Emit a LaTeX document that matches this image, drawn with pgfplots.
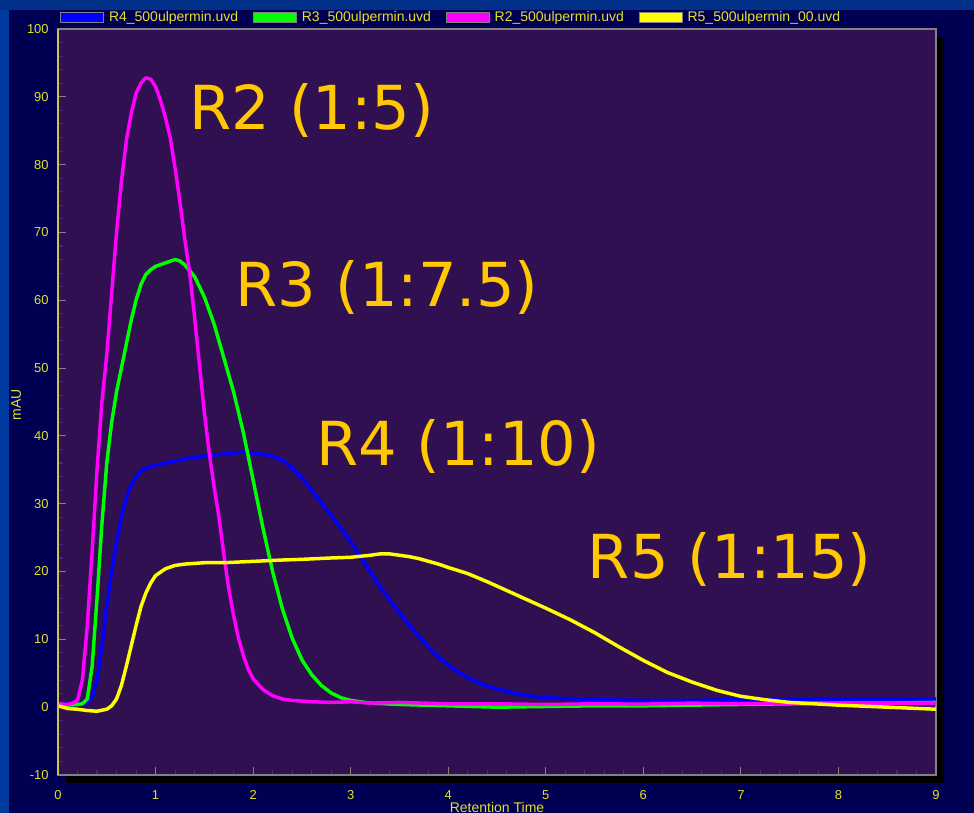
\documentclass[border=0pt]{standalone}
\usepackage{fontspec}
\setmainfont{Liberation Sans}
\newfontfamily\dejavu{DejaVu Sans}
\usepackage{pgfplots}
\pgfplotsset{compat=1.18}
\definecolor{topstrip}{RGB}{0,48,136}
\definecolor{leftstrip}{RGB}{0,60,160}
\definecolor{navy}{RGB}{0,0,82}
\definecolor{plotbg}{RGB}{48,16,80}
\definecolor{tickyel}{RGB}{226,226,40}
\definecolor{annot}{RGB}{255,200,0}
\definecolor{minorc}{RGB}{62,40,140}
\definecolor{gridgray}{RGB}{130,130,130}
\definecolor{yaxisline}{RGB}{204,196,64}
\definecolor{cblue}{RGB}{0,0,255}
\definecolor{cgreen}{RGB}{0,255,0}
\definecolor{cmag}{RGB}{255,0,255}
\definecolor{cyel}{RGB}{255,255,0}

\pgfplotstableread{
x y
0 0.5
0.1 0.5
0.2 0.4
0.3 0.6
0.35 1.5
0.4 4
0.45 9
0.5 15
0.55 20
0.6 24.3
0.65 28
0.7 30.8
0.75 32.8
0.8 34
0.85 34.8
0.9 35.2
1.0 35.7
1.1 36
1.2 36.3
1.3 36.6
1.4 36.8
1.5 37
1.6 37.2
1.7 37.3
1.8 37.5
1.9 37.6
2.0 37.5
2.1 37.3
2.2 37.0
2.3 36.4
2.4 35.3
2.5 33.8
2.6 32.0
2.7 30.1
2.8 28.3
2.9 26.4
3.0 24.4
3.1 22.2
3.2 20
3.3 17.8
3.4 15.8
3.5 13.9
3.6 12.1
3.7 10.4
3.8 8.8
3.9 7.4
4.0 6.2
4.1 5.2
4.2 4.4
4.3 3.7
4.4 3.1
4.6 2.3
4.8 1.7
5.0 1.4
5.5 1.1
6.0 1.0
6.5 1.0
7.0 1.1
7.5 1.1
8.0 1.2
8.5 1.2
9.0 1.2
}\rfour

\pgfplotstableread{
x y
0 0.4
0.1 0.3
0.2 0.4
0.25 0.5
0.3 1.2
0.35 6
0.4 16
0.45 27
0.5 36
0.55 42
0.6 46.5
0.65 50
0.7 53.5
0.75 57
0.8 60
0.85 62.3
0.9 63.8
0.95 64.5
1.0 65
1.1 65.5
1.2 66
1.25 65.8
1.3 65.2
1.4 63.5
1.5 60.5
1.6 56.5
1.7 51.5
1.8 46.5
1.9 40.5
2.0 33.5
2.1 26.5
2.2 20
2.3 14.5
2.4 10.2
2.5 7
2.6 4.8
2.7 3.2
2.8 2.1
2.9 1.4
3.0 1.0
3.2 0.6
3.5 0.4
4.0 0.2
4.5 0.0
5.0 0.1
5.5 0.2
6.0 0.2
6.5 0.3
7.0 0.4
7.5 0.5
8.0 0.6
8.5 0.6
9.0 0.7
}\rthree

\pgfplotstableread{
x y
0 0.5
0.1 0.4
0.15 0.6
0.2 1.0
0.25 4
0.3 12
0.35 23
0.4 35
0.45 45
0.5 52
0.55 61
0.6 70
0.65 77.5
0.7 83.5
0.75 87.5
0.8 90.5
0.85 92
0.9 92.8
0.95 92.6
1.0 91.5
1.05 89.5
1.1 87
1.15 84
1.2 79.5
1.25 74.5
1.3 69
1.35 64
1.4 57.5
1.45 50.5
1.5 43.5
1.55 37.5
1.6 32.5
1.65 28
1.7 22.5
1.75 17.5
1.8 13.5
1.85 10.2
1.9 7.6
1.95 5.6
2.0 4.2
2.1 2.6
2.2 1.7
2.3 1.2
2.4 1.0
2.6 0.8
2.8 0.7
3.0 0.8
3.2 0.6
3.5 0.7
4.0 0.5
4.5 0.5
5.0 0.4
5.5 0.5
6.0 0.45
6.5 0.6
7.0 0.5
7.5 0.6
8.0 0.6
8.5 0.6
9.0 0.6
}\rtwo

\pgfplotstableread{
x y
0 0.2
0.1 -0.2
0.2 -0.3
0.3 -0.5
0.4 -0.6
0.5 -0.3
0.55 0.2
0.6 1.2
0.65 3.2
0.7 6
0.75 9
0.8 12
0.85 14.8
0.9 16.8
0.95 18.3
1.0 19.4
1.1 20.4
1.2 20.9
1.3 21.1
1.5 21.3
1.7 21.3
2.0 21.5
2.3 21.7
2.5 21.8
2.8 22
3.0 22.1
3.2 22.4
3.3 22.6
3.4 22.6
3.5 22.4
3.6 22.2
3.7 21.9
3.8 21.5
3.9 21.1
4.0 20.6
4.2 19.7
4.4 18.5
4.6 17.2
4.8 15.9
5.0 14.6
5.25 12.9
5.5 11
5.75 8.9
6.0 6.9
6.25 5.1
6.5 3.7
6.75 2.5
7.0 1.6
7.25 1.1
7.5 0.7
8.0 0.3
8.5 0.0
9.0 -0.3
}\rfive

\begin{document}
\begin{tikzpicture}
\useasboundingbox (0,0) rectangle (730.5pt,609.75pt);
\fill[leftstrip] (0,0) rectangle (730.5pt,609.75pt);
\fill[topstrip] (0pt,602.25pt) rectangle (730.5pt,609.75pt);
\fill[navy] (6.75pt,0pt) rectangle (730.5pt,602.25pt);
\fill[black] (49.5pt,22.5pt) rectangle (708pt,582pt);
\begin{axis}[
  at={(43.5pt,28.5pt)}, anchor=south west,
  scale only axis, width=658.5pt, height=559.5pt,
  xmin=0, xmax=9, ymin=-10, ymax=100,
  xtick={0,1,...,9}, ytick={-10,0,10,...,100},
  minor x tick num=4, minor y tick num=4,
  tick pos=left,
  axis background/.style={fill=plotbg},
  axis line style={draw=gridgray, line width=0.8pt},
  tick align=inside,
  major tick length=6pt, minor tick length=3.75pt,
  major tick style={draw=gridgray, line width=0.8pt},
  minor tick style={draw=minorc, line width=0.8pt},
  ticklabel style={font=\fontsize{9.7}{11}\selectfont, text=tickyel},
  /pgf/number format/assume math mode=true,
  yticklabel style={xshift=-3.5pt},
  xticklabel style={yshift=-8pt},
  xlabel={Retention Time}, ylabel={mAU},
  every axis x label/.style={at={(axis description cs:0.5,-0.0429)}, anchor=center, font=\fontsize{10.5}{12}\selectfont, text=tickyel},
  every axis y label/.style={at={(axis description cs:-0.0478,0.496)}, anchor=center, rotate=90, font=\fontsize{10.5}{12}\selectfont, text=tickyel},
  legend image code/.code={\draw[#1] (0pt,-3.5pt) rectangle (32.25pt,3.5pt);},
  legend style={at={(axis description cs:0,1)}, anchor=west, xshift=1.5pt, yshift=8.6pt,
    draw=none, fill=none, inner sep=0pt, font=\fontsize{10.5}{12}\selectfont, text=tickyel,
    /tikz/every odd column/.append style={column sep=1.6pt},
    /tikz/every even column/.append style={column sep=9.2pt}},
  legend columns=4, legend cell align=left,
  every axis plot/.append style={line width=2.6pt, line join=round, no marks},
]
\addlegendimage{draw=gridgray, line width=0.7pt, fill=cblue}
\addlegendentry{R4\_500ulpermin.uvd}
\addlegendimage{draw=gridgray, line width=0.7pt, fill=cgreen}
\addlegendentry{R3\_500ulpermin.uvd}
\addlegendimage{draw=gridgray, line width=0.7pt, fill=cmag}
\addlegendentry{R2\_500ulpermin.uvd}
\addlegendimage{draw=gridgray, line width=0.7pt, fill=cyel}
\addlegendentry{R5\_500ulpermin\_00.uvd}
\addplot[cblue, forget plot] table[x=x,y=y] {\rfour};
\addplot[cgreen, forget plot] table[x=x,y=y] {\rthree};
\addplot[cmag, forget plot] table[x=x,y=y] {\rtwo};
\addplot[cyel, forget plot] table[x=x,y=y] {\rfive};
\end{axis}
\draw[yaxisline, line width=1pt] (43.5pt,28.5pt) -- (43.5pt,588pt);
\begin{scope}[every node/.style={inner sep=0pt, anchor=base west, text=annot, font=\dejavu\fontsize{45.5}{50}\selectfont}]
\node at (141.75pt,512.25pt) {R2 (1:5)};
\node at (176.5pt,379.5pt) {R3 (1:7.5)};
\node at (237.3pt,260.5pt) {R4 (1:10)};
\node at (440.75pt,175.5pt) {R5 (1:15)};
\end{scope}
\end{tikzpicture}
\end{document}
